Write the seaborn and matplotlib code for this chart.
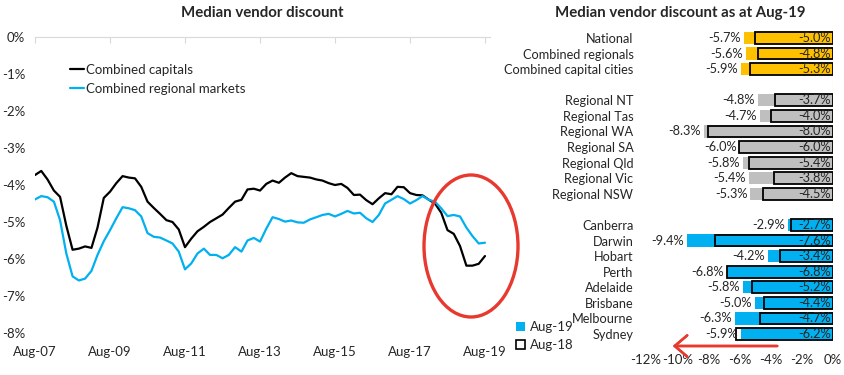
import numpy as np
import pandas as pd
import seaborn as sns
import matplotlib.pyplot as plt
from matplotlib.patches import Ellipse, Patch
from matplotlib.lines import Line2D
import matplotlib.dates as mdates

# serie bimestral desde Aug-07 hasta Aug-19
dates = pd.date_range('2007-08-01', periods=73, freq='2MS')

capitals = [-3.73, -3.62, -3.85, -4.15, -4.32, -5.10, -5.75, -5.72, -5.66, -5.70,
            -5.15, -4.35, -4.18, -3.95, -3.76, -3.80, -3.82, -4.05, -4.45, -4.62,
            -4.78, -4.95, -5.00, -5.20, -5.68, -5.45, -5.25, -5.13, -5.00, -4.90,
            -4.80, -4.62, -4.45, -4.40, -4.12, -4.10, -4.15, -3.97, -3.88, -3.94,
            -3.80, -3.68, -3.76, -3.78, -3.80, -3.85, -3.88, -3.95, -4.00, -3.97,
            -4.08, -4.27, -4.26, -4.41, -4.52, -4.36, -4.22, -4.25, -4.05, -4.06,
            -4.22, -4.27, -4.28, -4.40, -4.50, -4.75, -5.22, -5.32, -5.65, -6.18,
            -6.18, -6.13, -5.92]

regionals = [-4.39, -4.30, -4.33, -4.45, -4.95, -5.85, -6.47, -6.58, -6.53, -6.32,
             -5.89, -5.52, -5.22, -4.90, -4.60, -4.63, -4.68, -4.85, -5.30, -5.40,
             -5.42, -5.50, -5.58, -5.80, -6.28, -6.12, -5.85, -5.72, -5.89, -5.89,
             -5.98, -5.89, -5.68, -5.80, -5.50, -5.43, -5.53, -5.18, -4.87, -4.92,
             -4.99, -4.96, -5.01, -5.02, -4.93, -4.87, -4.81, -4.78, -4.85, -4.78,
             -4.70, -4.77, -4.75, -4.90, -5.00, -4.81, -4.50, -4.40, -4.30, -4.38,
             -4.50, -4.41, -4.30, -4.40, -4.45, -4.63, -4.84, -4.81, -4.85, -5.15,
             -5.38, -5.58, -5.56]

# barras: huecos como categorias vacias
regions = ['National', 'Combined regionals', 'Combined capital cities', ' ',
           'Regional NT', 'Regional Tas', 'Regional WA', 'Regional SA', 'Regional Qld',
           'Regional Vic', 'Regional NSW', '  ',
           'Canberra', 'Darwin', 'Hobart', 'Perth', 'Adelaide', 'Brisbane', 'Melbourne', 'Sydney']
aug19 = [-5.7, -5.6, -5.9, np.nan, -4.8, -4.7, -8.3, -6.0, -5.8, -5.4, -5.3, np.nan,
         -2.9, -9.4, -4.2, -6.8, -5.8, -5.0, -6.3, -5.9]
aug18 = [-5.0, -4.8, -5.3, np.nan, -3.7, -4.0, -8.0, -6.0, -5.4, -3.8, -4.5, np.nan,
         -2.7, -7.6, -3.4, -6.8, -5.2, -4.4, -4.7, -6.2]
groups = ['total'] * 3 + ['gap'] + ['regional'] * 7 + ['gap'] + ['capital'] * 8

group_colors = {'total': '#FFC000', 'regional': '#BFBFBF', 'capital': '#00B0F0', 'gap': 'white'}
blue = '#00B0F0'
red = '#E8392F'

sns.set_style('white')
plt.rcParams['font.family'] = ['Lato', 'DejaVu Sans']
plt.rcParams['font.size'] = 9

W, H = 845, 375
fig = plt.figure(figsize=(W / 100, H / 100), dpi=100)

# ---------- grafico de lineas ----------
ax1 = fig.add_axes([35 / W, 1 - 333 / H, 455 / W, 296 / H])
line_df = pd.DataFrame({'date': dates, 'capitals': capitals, 'regionals': regionals})
sns.lineplot(data=line_df, x='date', y='capitals', color='black', lw=1.6, ax=ax1)
sns.lineplot(data=line_df, x='date', y='regionals', color=blue, lw=1.6, ax=ax1)

ax1.set_ylim(-8, 0)
ax1.set_xlim(pd.Timestamp('2007-08-01'), pd.Timestamp('2019-09-19'))
ax1.set_yticks(range(-8, 1))
ax1.set_yticklabels([f'{v}%' for v in range(-8, 1)])
ax1.set_xticks(pd.date_range('2007-08-01', '2019-08-01', freq='24MS'))
ax1.xaxis.set_major_formatter(mdates.DateFormatter('%b-%y'))
ax1.set_xlabel('')
ax1.set_ylabel('')
for s in ['left', 'right', 'bottom']:
    ax1.spines[s].set_visible(False)
ax1.spines['top'].set_color('#d9d9d9')
ax1.tick_params(axis='x', top=True, bottom=False, labelbottom=True, labeltop=False,
                direction='in', length=4, color='#d9d9d9', pad=9, labelsize=9.5)
ax1.tick_params(axis='y', length=0, pad=7, labelsize=9.5)

leg_handles = [Line2D([], [], color='black', lw=1.6), Line2D([], [], color=blue, lw=1.6)]
ax1.legend(leg_handles, ['Combined capitals', 'Combined regional markets'],
           loc='upper left', bbox_to_anchor=(0.05, 0.95), frameon=False,
           handlelength=1.1, handletextpad=0.15, labelspacing=0.55, fontsize=9.5)

fig.text(262 / W, 1 - 13 / H, 'Median vendor discount', ha='center', va='center',
         fontsize=10.8, fontweight='bold')

# circulo rojo
fig.add_artist(Ellipse((471 / W, 1 - 246 / H), 94 / W, 142 / H, transform=fig.transFigure,
                       fill=False, edgecolor=red, lw=2.4))

# ---------- grafico de barras ----------
ax2 = fig.add_axes([646 / W, 1 - 341.8 / H, 187 / W, 311.6 / H])
bar_df = pd.DataFrame({'region': regions, 'aug19': aug19, 'aug18': aug18, 'group': groups})
bar_df['aug19'] = bar_df['aug19'].fillna(0)
bar_df['aug18'] = bar_df['aug18'].fillna(0)

sns.barplot(data=bar_df, y='region', x='aug19', hue='group', palette=group_colors,
            order=regions, orient='h', width=0.78, dodge=False, legend=False, ax=ax2,
            linewidth=0, saturation=1)
n_filled = len(ax2.patches)
sns.barplot(data=bar_df, y='region', x='aug18', order=regions, orient='h', width=0.76,
            color='white', ax=ax2)
for p in ax2.patches[n_filled:]:
    if p.get_width() != 0:
        p.set_facecolor('none')
        p.set_edgecolor('black')
        p.set_linewidth(1.3)
    else:
        p.set_visible(False)

for i, (a, b) in enumerate(zip(aug19, aug18)):
    if np.isnan(a):
        continue
    ax2.text(a - 0.2, i, f'{a:.1f}%', ha='right', va='center', fontsize=9.2)
    ax2.text(-0.15, i, f'{b:.1f}%', ha='right', va='center', fontsize=9.2)

ax2.axvline(0, color='#d9d9d9', lw=0.8, zorder=0)
ax2.set_xlim(-12, 0)
ax2.set_ylim(19.5, -0.5)
ax2.set_xticks(range(-12, 1, 2))
ax2.set_xticklabels([f'{v}%' for v in range(-12, 1, 2)])
ax2.set_xlabel('')
ax2.set_ylabel('')
sns.despine(ax=ax2, left=True, bottom=True)
ax2.tick_params(axis='x', length=0, pad=9, labelsize=9.5)
ax2.tick_params(axis='y', length=0, pad=9, labelsize=9.2)

fig.text(680 / W, 1 - 13 / H, 'Median vendor discount as at Aug-19', ha='center',
         va='center', fontsize=10.8, fontweight='bold')

bar_handles = [Patch(facecolor=blue, edgecolor='none'),
               Patch(facecolor='white', edgecolor='black', linewidth=1.2)]
fig.legend(bar_handles, ['Aug-19', 'Aug-18'], loc='upper left',
           bbox_to_anchor=(504 / W, 1 - 309 / H), frameon=False, handlelength=0.7,
           handleheight=0.7, handletextpad=0.4, labelspacing=0.45, fontsize=9.5)

# flecha roja
fig.add_artist(plt.annotate('', xy=(670, H - 346), xytext=(780, H - 346),
                            xycoords='figure pixels', textcoords='figure pixels',
                            arrowprops=dict(arrowstyle='->,head_length=1.0,head_width=0.85',
                                            color=red, lw=1.8)))

plt.savefig('out.png', dpi=100)
